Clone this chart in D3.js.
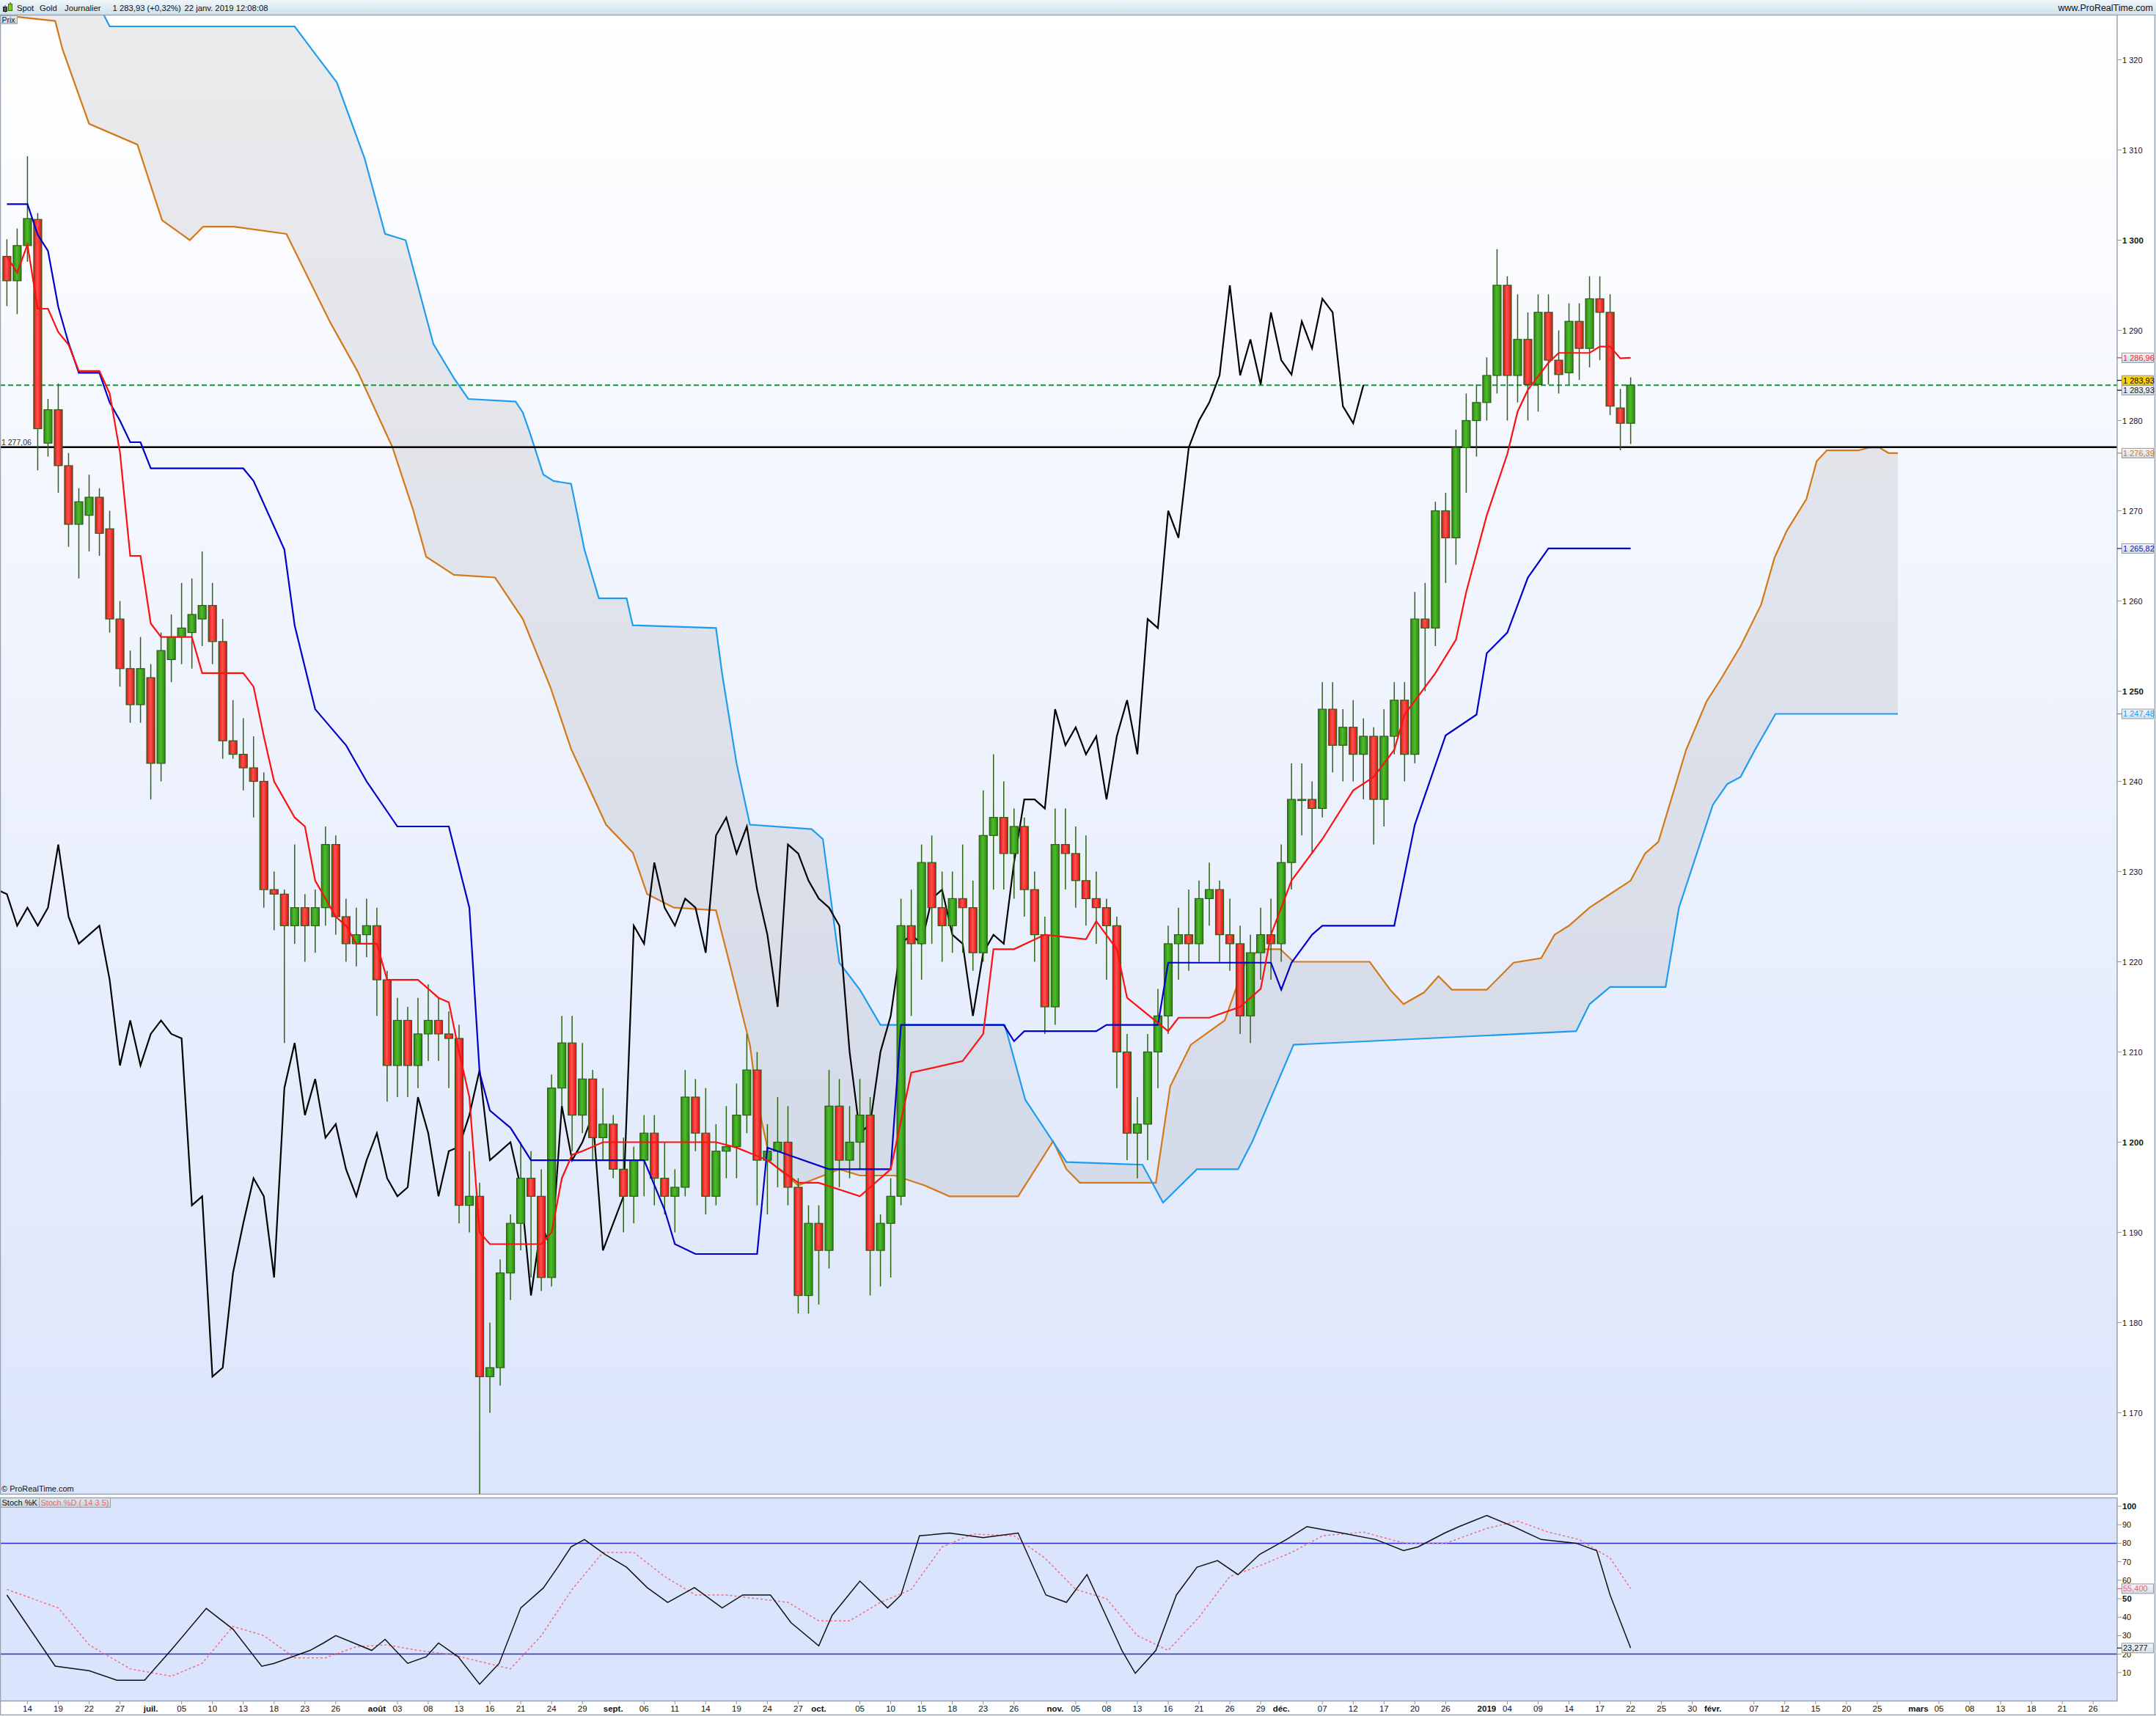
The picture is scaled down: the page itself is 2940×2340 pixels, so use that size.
<!DOCTYPE html>
<html><head><meta charset="utf-8">
<script src="https://cdn.jsdelivr.net/npm/d3@7"></script>
<style>html,body{margin:0;padding:0;background:#fff;} svg{display:block;}</style>
</head><body><svg id="c" width="2940" height="2340"></svg>
<script>
// ---------------- DATA (trading-day index 0 = 12 June 2018) ----------------
const openP = [1298.2,1295.5,1299.4,1302.3,1277.5,1281.2,1275.0,1268.5,1269.5,1271.5,1268.0,1258.0,1252.5,1248.5,1251.5,1242.0,1253.5,1256.0,1256.5,1258.0,1259.5,1255.5,1244.5,1243.0,1241.5,1240.0,1228.0,1227.5,1224.0,1226.0,1224.0,1226.0,1233.0,1225.0,1222.0,1223.0,1224.0,1218.0,1208.5,1213.5,1208.5,1212.0,1213.5,1212.0,1211.5,1193.0,1194.0,1174.0,1175.0,1185.5,1191.0,1196.0,1194.0,1185.0,1206.0,1211.0,1203.0,1207.0,1200.5,1202.0,1197.0,1194.0,1198.0,1201.0,1196.0,1194.0,1195.0,1205.0,1201.0,1194.0,1199.0,1199.5,1203.0,1208.0,1198.0,1199.0,1200.0,1195.0,1183.0,1191.0,1188.0,1204.0,1198.0,1200.0,1203.0,1188.0,1191.0,1194.0,1224.0,1222.0,1231.0,1226.0,1224.0,1227.0,1226.0,1221.0,1234.0,1236.0,1232.0,1235.0,1228.0,1223.0,1215.0,1233.0,1232.0,1229.0,1227.0,1226.0,1224.0,1210.0,1201.0,1202.0,1210.0,1214.0,1222.0,1223.0,1222.0,1227.0,1228.0,1223.0,1222.0,1214.0,1221.0,1223.0,1222.0,1231.0,1238.0,1238.0,1237.0,1248.0,1244.0,1246.0,1243.0,1245.0,1238.0,1245.0,1249.0,1243.0,1258.0,1257.0,1270.0,1267.0,1277.0,1280.0,1282.0,1285.0,1295.0,1285.0,1289.0,1284.0,1292.0,1286.7,1285.3,1291.0,1288.0,1293.5,1292.0,1281.4,1279.7];
const highP = [1300.1,1301.3,1309.3,1303.0,1282.4,1284.1,1276.4,1272.5,1274.0,1272.5,1270.0,1260.0,1254.5,1256.0,1253.0,1256.5,1258.5,1262.0,1262.5,1265.5,1262.0,1258.0,1249.0,1247.0,1245.0,1241.0,1230.0,1228.0,1233.0,1227.5,1228.0,1235.0,1234.0,1227.0,1226.0,1227.0,1226.0,1219.0,1216.0,1215.0,1216.0,1217.5,1216.0,1214.5,1213.0,1199.0,1195.5,1180.0,1187.0,1192.0,1200.0,1199.0,1197.0,1207.5,1214.0,1214.0,1211.0,1208.0,1206.0,1203.0,1200.5,1199.5,1203.0,1203.0,1200.0,1197.0,1208.0,1207.0,1206.0,1202.0,1204.0,1206.5,1212.0,1210.0,1202.0,1205.0,1204.0,1196.0,1193.0,1193.0,1208.0,1207.0,1204.0,1207.0,1205.0,1192.0,1196.0,1227.0,1228.0,1233.0,1234.0,1230.0,1230.0,1233.0,1229.0,1239.0,1243.0,1240.0,1237.0,1236.0,1230.0,1225.0,1237.0,1237.0,1235.0,1234.0,1230.0,1227.0,1225.0,1212.0,1205.0,1212.0,1217.0,1224.0,1226.0,1228.0,1229.0,1231.0,1229.0,1227.0,1224.0,1223.0,1226.0,1227.0,1233.0,1242.0,1242.0,1240.0,1251.0,1251.0,1248.0,1249.0,1247.0,1246.0,1248.0,1251.0,1251.0,1261.0,1262.0,1271.0,1272.0,1279.0,1283.0,1284.0,1287.0,1299.0,1296.0,1294.0,1292.0,1294.0,1294.0,1290.0,1293.0,1293.0,1296.0,1296.0,1294.0,1283.5,1284.8];
const lowP = [1292.7,1291.8,1297.6,1274.5,1276.0,1272.0,1266.0,1262.5,1265.5,1265.0,1256.5,1250.5,1246.5,1246.5,1238.0,1240.0,1251.0,1253.0,1252.5,1255.0,1253.0,1242.5,1242.5,1239.0,1236.0,1226.0,1223.5,1211.0,1222.0,1220.0,1221.0,1224.0,1223.0,1220.0,1219.5,1220.5,1214.0,1204.5,1205.0,1205.0,1206.0,1209.0,1209.0,1206.0,1191.0,1190.0,1160.0,1170.0,1173.0,1182.5,1188.0,1185.0,1183.5,1184.0,1204.0,1199.0,1201.0,1198.0,1198.0,1196.0,1190.0,1191.0,1194.0,1193.0,1192.0,1190.0,1194.0,1199.0,1192.0,1193.0,1196.0,1196.0,1201.0,1193.0,1192.0,1195.0,1193.0,1181.0,1181.0,1182.0,1186.0,1195.0,1196.0,1197.0,1183.0,1184.0,1185.0,1193.0,1214.0,1218.0,1222.0,1220.0,1221.0,1221.0,1219.0,1220.0,1228.0,1228.0,1227.0,1225.0,1220.0,1212.0,1213.0,1228.0,1226.0,1224.0,1222.0,1218.0,1206.0,1198.0,1196.0,1198.0,1206.0,1212.0,1218.0,1219.0,1220.0,1224.0,1220.0,1219.0,1212.0,1211.0,1218.0,1218.0,1220.0,1228.0,1234.0,1232.0,1236.0,1241.0,1240.0,1240.0,1238.0,1233.0,1235.0,1243.0,1240.0,1242.0,1250.0,1255.0,1262.0,1264.0,1272.0,1276.0,1280.0,1283.0,1280.0,1282.0,1280.0,1281.0,1284.0,1283.0,1284.0,1284.5,1285.9,1286.7,1280.6,1276.7,1277.4];
const closeP = [1295.5,1299.4,1302.4,1279.1,1281.2,1275.0,1268.5,1271.0,1271.5,1267.5,1258.0,1252.5,1248.5,1252.5,1242.0,1254.5,1256.0,1257.0,1258.5,1259.5,1255.5,1244.5,1243.0,1241.5,1240.0,1228.0,1227.5,1224.0,1226.0,1224.0,1226.0,1233.0,1225.0,1222.0,1223.0,1224.0,1218.0,1208.5,1213.5,1208.5,1212.0,1213.5,1212.0,1211.5,1193.0,1194.0,1174.0,1175.0,1185.5,1191.0,1196.0,1194.0,1185.0,1206.0,1211.0,1203.0,1207.0,1200.5,1202.0,1197.0,1194.0,1198.0,1201.0,1196.0,1194.0,1195.0,1205.0,1201.0,1194.0,1199.0,1199.5,1203.0,1208.0,1198.0,1199.0,1200.0,1195.0,1183.0,1191.0,1188.0,1204.0,1198.0,1200.0,1203.0,1188.0,1191.0,1194.0,1224.0,1222.0,1231.0,1226.0,1224.0,1227.0,1226.0,1221.0,1234.0,1236.0,1232.0,1235.0,1228.0,1223.0,1215.0,1233.0,1232.0,1229.0,1227.0,1226.0,1224.0,1210.0,1201.0,1202.0,1210.0,1214.0,1222.0,1223.0,1222.0,1227.0,1228.0,1223.0,1222.0,1214.0,1221.0,1223.0,1222.0,1231.0,1238.0,1238.0,1237.0,1248.0,1244.0,1246.0,1243.0,1245.0,1238.0,1245.0,1249.0,1243.0,1258.0,1257.0,1270.0,1267.0,1277.0,1280.0,1282.0,1285.0,1295.0,1285.0,1289.0,1284.0,1292.0,1286.7,1285.1,1291.0,1288.0,1293.5,1292.0,1281.6,1279.7,1283.93];

// Ichimoku lines: [index, price]
const tenkanPts = [[0,1298.2],[1,1296.4],[2,1299.5],[3,1292.4],[4,1292.4],[5,1289.8],[6,1288.4],[7,1285.5],[9,1285.5],[10,1283],[11,1276.5],[12,1265],[13,1265],[14,1257.5],[15,1256],[18,1256],[19,1252],[23,1252],[24,1250.5],[25,1245],[26,1240],[27,1238],[28,1236],[29,1235],[30,1229],[31,1227],[32,1225],[33,1224],[34,1222],[36,1222],[37,1218],[40,1218],[41,1217],[42,1216],[43,1215.5],[44,1210],[45,1205],[46,1190],[47,1188.7],[52,1188.7],[53,1190],[54,1196],[55,1198.6],[56,1199],[58,1200],[69,1200],[71,1199.4],[74,1198],[77,1195.5],[79,1195.5],[83,1194],[86,1197],[88,1207.7],[93,1209],[95,1212],[96,1221.4],[98,1221.4],[101,1223],[105,1222.5],[106,1224.5],[108,1221.4],[109,1216],[113,1212.3],[114,1213.8],[117,1213.8],[120,1215],[122,1217],[123,1223],[125,1229],[128,1233.6],[131,1239],[133,1240.5],[135,1243.5],[136,1247.4],[139,1252],[141,1255.7],[142,1261],[144,1269.5],[146,1276.3],[147,1281],[148,1283.4],[150,1286.4],[151,1287.5],[154,1287.5],[155,1288.2],[156,1288.2],[157,1286.9],[158,1286.96]];
const kijunPts = [[0,1304],[2,1304],[3,1300.6],[4,1298.8],[5,1292.6],[6,1288.6],[7,1285.3],[9,1285.3],[10,1282],[11,1280],[12,1277.6],[13,1277.6],[14,1274.7],[23,1274.7],[24,1273.3],[27,1265.7],[28,1257.3],[30,1248],[33,1244],[35,1240],[38,1235],[43,1235],[45,1226],[46,1207.7],[47,1203.5],[49,1201.6],[51,1198],[62,1198],[64,1192.5],[65,1188.7],[67,1187.6],[73,1187.6],[74,1199.4],[76,1198.6],[80,1197],[86,1197],[87,1213],[97,1213],[98,1211.2],[99,1212.3],[106,1212.3],[107,1213],[112,1213],[113,1219.9],[123,1219.9],[124,1216.9],[125,1219.9],[127,1223],[128,1224],[135,1224],[137,1235.2],[140,1245.1],[143,1247.4],[144,1254.2],[146,1256.5],[148,1262.6],[150,1265.82],[158,1265.82]];
const spanAPts = [[-1,1325],[4.7,1324.3],[5.4,1321.2],[8,1312.9],[12.7,1310.6],[15.1,1302.2],[17.8,1300],[19.1,1301.5],[22.1,1301.5],[27.2,1300.7],[31.5,1290.8],[34.1,1285.5],[37.5,1277.1],[39.5,1270.2],[40.8,1264.9],[43.5,1262.9],[47.5,1262.6],[50.2,1258],[52.9,1250.4],[54.9,1243.6],[58.3,1235.2],[60.9,1232.1],[62.3,1227.5],[64.9,1226],[69,1225.7],[70.3,1219.9],[72.3,1210.8],[73,1204.7],[74.3,1197.8],[77,1195.2],[81,1197],[83,1196.3],[86.4,1196.3],[89.3,1195.2],[91.7,1194],[98.4,1194],[101.8,1200.1],[103.1,1197],[104.4,1195.5],[111.8,1195.5],[113.2,1206.2],[115.2,1210.8],[118.5,1213.5],[120.5,1219.9],[121.9,1221.4],[123.9,1221.4],[125.2,1220],[132.6,1220],[134.6,1216.9],[135.9,1215.3],[137.9,1216.6],[139.3,1218.4],[140.6,1216.9],[144,1216.9],[145.3,1218.4],[146.6,1219.9],[149.3,1220.4],[150.6,1223],[152,1224],[154,1226],[156,1227.5],[158,1229],[159.4,1232],[160.7,1233.3],[162,1238.2],[163.4,1243.5],[165.4,1248.9],[166.7,1251.2],[168.7,1255],[170.7,1259.6],[172,1264.8],[173.2,1267.8],[175.1,1271.3],[176.1,1275.5],[177.1,1276.7],[180.2,1276.7],[181.2,1277.0],[182.2,1277.0],[183.1,1276.4],[184,1276.39]];
const spanBPts = [[9.2,1325.5],[10,1323.7],[28,1323.7],[30.1,1320.5],[32.1,1317.5],[34.8,1309.1],[36.8,1300.7],[38.8,1300],[41.5,1288.5],[43.5,1284.7],[44.9,1282.4],[49.5,1282.1],[50.2,1280.9],[50.9,1278.6],[52.2,1274],[53.2,1273.3],[54.9,1273],[56.2,1265.7],[57.6,1260.3],[60.3,1260.3],[60.9,1257.3],[69,1257],[69.6,1251.9],[71,1242],[72.3,1235.2],[78.3,1234.7],[79.4,1233.6],[81,1219.9],[83,1216.9],[85,1213],[97.1,1213],[99.1,1204.7],[103.1,1197.8],[110.5,1197.5],[112.5,1193.3],[115.8,1197],[119.8,1197],[121.2,1200.1],[125.2,1210.8],[152.7,1212.3],[154,1215.3],[156,1217.2],[161.4,1217.2],[162.7,1226],[166,1237.4],[167.4,1239.7],[168.7,1240.5],[170.1,1243.5],[172.1,1247.48],[184,1247.48]];

// Stochastic (14,3,5): [index, value]
const stochKPts = [[0,52],[4.7,13.5],[8,11],[10.7,5.9],[13.4,5.9],[16,22.3],[19.4,44.7],[22,33.5],[24.8,13.4],[26,15],[29.5,22],[30.8,26],[32,30],[35.5,22],[36.8,28],[39,15],[40.8,18.6],[42,26],[43.9,18.6],[46,3.7],[47.9,15],[50,45],[52.2,55.8],[53.6,67],[54.9,78],[56.2,82],[58.2,74],[60.3,67],[62.3,56],[64.3,48],[66.9,56],[69.6,45],[71.6,52],[74.3,52],[76.3,37],[79,24.5],[80.3,41],[83,59.5],[85.7,45],[87,52],[88.8,84],[91.7,85.5],[95,83],[98.4,85.5],[101.1,52],[103.1,48],[105.1,63],[108.5,22],[109.8,9.6],[111.8,22],[113.8,52],[115.8,67],[117.8,70.6],[119.8,63],[121.9,74],[124.5,82],[126.5,89],[129.9,85.5],[133.2,82],[135.9,76],[137.3,78],[139.9,85.5],[141.3,89],[144,95],[146.6,89],[149.3,82],[152.7,80],[154.7,76],[156,52],[158,23.277]];
const stochDPts = [[0,55],[5,45],[8,25],[12,12],[16,8],[19,15],[22,35],[25,30],[28,18],[31,18],[34,24],[37,25],[40,22],[43,20],[46,16],[49,12],[52,30],[55,55],[58,75],[61,75],[64,62],[67,52],[70,52],[73,50],[76,48],[79,38],[82,38],[85,48],[88,55],[91,78],[94,85],[98,84],[101,72],[104,55],[107,50],[110,30],[113,22],[116,40],[119,62],[122,68],[125,75],[128,84],[132,86],[136,80],[140,80],[144,88],[147,92],[150,86],[153,82],[156,72],[158,55.4]];

// x-axis tick labels
const tickIdx = [2,5,8,11,14,17,20,23,26,29,32,36,38,41,44,47,50,53,56,59,62,65,68,71,74,77,79,83,86,89,92,95,98,102,104,107,110,113,116,119,122,124,128,131,134,137,140,144,146,149,152,155,158,161,164,166,170,173,176,179,182,186,188,191,194,197,200,203];
const tickTxt = ["14","19","22","27","juil.","05","10","13","18","23","26","août","03","08","13","16","21","24","29","sept.","06","11","14","19","24","27","oct.","05","10","15","18","23","26","nov.","05","08","13","16","21","26","29","déc.","07","12","17","20","26","2019","04","09","14","17","22","25","30","févr.","07","12","15","20","25","mars","05","08","13","18","21","26"];
const monthTxt = ["juil.","août","sept.","oct.","nov.","déc.","2019","févr.","mars"];
const priceTicks = [1170,1180,1190,1200,1210,1220,1230,1240,1250,1260,1270,1280,1290,1300,1310,1320];
const stochTicks = [10,20,30,40,50,60,70,80,90,100];
const lastClose = 1283.93, refLevel = 1277.06;

// ---------------- LAYOUT ----------------
const svg = d3.select('#c');
const AX = 2887, mainTop = 21, mainBot = 2038, stTop = 2042, stBot = 2319;
const x = d3.scaleLinear().domain([0, 203]).range([9.4, 9.4 + 14.014 * 203]);
const y = d3.scaleLinear().domain([1200, 1300]).range([1557.5, 327.5]);
const ys = d3.scaleLinear().domain([0, 100]).range([2306, 2054]);
const FONT = "'Liberation Sans', Arial, sans-serif";
const NARROW = "'Liberation Sans Narrow', 'Arial Narrow', 'Liberation Sans', sans-serif";

const defs = svg.append('defs');
function lg(id, stops, vertical) {
  const g = defs.append('linearGradient').attr('id', id)
    .attr('x1', 0).attr('y1', 0).attr('x2', vertical ? 0 : 1).attr('y2', vertical ? 1 : 0);
  stops.forEach(s => g.append('stop').attr('offset', s[0]).attr('stop-color', s[1]));
}
lg('gMain', [[0, '#ffffff'], [1, '#dbe5fb']], true);
lg('gHead', [[0, '#eef6fa'], [1, '#cfe2ec']], true);
lg('gGreen', [[0, '#2a8a10'], [0.45, '#4fbb2e'], [1, '#2a8a10']], false);
lg('gRed', [[0, '#e01010'], [0.45, '#ff5252'], [1, '#e01010']], false);
lg('gBox', [[0, '#f4f7fa'], [1, '#d5dde6']], true);
lg('gTitle', [[0, '#e6ecf0'], [1, '#c4ced8']], true);
defs.append('clipPath').attr('id', 'clipMain').append('rect')
  .attr('x', 1).attr('y', mainTop).attr('width', AX - 1).attr('height', mainBot - mainTop);
defs.append('clipPath').attr('id', 'clipSt').append('rect')
  .attr('x', 1).attr('y', stTop).attr('width', AX - 1).attr('height', stBot - stTop);

// backgrounds
svg.append('rect').attr('width', 2940).attr('height', 2340).attr('fill', '#ffffff');
svg.append('rect').attr('x', 0).attr('y', mainTop).attr('width', AX).attr('height', mainBot - mainTop).attr('fill', 'url(#gMain)');
svg.append('rect').attr('x', 0).attr('y', stTop).attr('width', AX).attr('height', stBot - stTop).attr('fill', '#dae4fc');

// header
svg.append('rect').attr('x', 0).attr('y', 0).attr('width', 2940).attr('height', 20).attr('fill', 'url(#gHead)');
svg.append('line').attr('x1', 0).attr('x2', 2940).attr('y1', 20.5).attr('y2', 20.5).attr('stroke', '#96a4b0').attr('stroke-width', 1);
svg.append('line').attr('x1', 7).attr('x2', 7).attr('y1', 7).attr('y2', 17).attr('stroke', '#333');
svg.append('rect').attr('x', 4.5).attr('y', 9.5).attr('width', 5).attr('height', 6).attr('fill', '#555').attr('stroke', '#222');
svg.append('line').attr('x1', 14).attr('x2', 14).attr('y1', 3).attr('y2', 15).attr('stroke', '#333');
svg.append('rect').attr('x', 11.5).attr('y', 5.5).attr('width', 5).attr('height', 9).attr('fill', '#7ed21e').attr('stroke', '#3a6a10');
const head = [[23, 'Spot'], [54, 'Gold'], [88, 'Journalier'], [153.5, '1 283,93 (+0,32%)'], [251.5, '22 janv. 2019 12:08:08']];
head.forEach(h => svg.append('text').attr('x', h[0]).attr('y', 15).attr('font-family', FONT).attr('font-size', 11.3).attr('fill', '#111').text(h[1]));
svg.append('text').attr('x', 2936).attr('y', 15).attr('text-anchor', 'end').attr('font-family', FONT).attr('font-size', 12.5).attr('fill', '#111').text('www.ProRealTime.com');

// ---------------- MAIN PANEL ----------------
const gm = svg.append('g').attr('clip-path', 'url(#clipMain)');

function pieceLine(pts) {
  return d3.scaleLinear().domain(pts.map(p => p[0])).range(pts.map(p => p[1])).clamp(true);
}
const fA = pieceLine(spanAPts), fB = pieceLine(spanBPts);
const cloudIdx = d3.range(-1, 184.01, 0.1).map(v => +v.toFixed(1));
const cloudPts = Array.from(new Set(cloudIdx.concat(spanAPts.map(p => p[0]), spanBPts.map(p => p[0])))).filter(v => v >= -1 && v <= 184).sort((a, b) => a - b);
gm.append('path').datum(cloudPts)
  .attr('d', d3.area().x(d => x(d)).y0(d => y(fA(d))).y1(d => y(d < 9.2 ? 1330 : fB(d))))
  .attr('fill', '#9a9aa0').attr('fill-opacity', 0.2);

const lineGen = d3.line().x(d => x(d[0])).y(d => y(d[1]));
const spanBDraw = [[8.5, 1330]].concat(spanBPts);
gm.append('path').datum(spanAPts).attr('d', lineGen).attr('fill', 'none').attr('stroke', '#d47818').attr('stroke-width', 2.2);
gm.append('path').datum(spanBDraw).attr('d', lineGen).attr('fill', 'none').attr('stroke', '#1e9cf0').attr('stroke-width', 2.2);

gm.append('line').attr('x1', 0).attr('x2', AX).attr('y1', y(refLevel)).attr('y2', y(refLevel)).attr('stroke', '#000').attr('stroke-width', 2.5);
gm.append('line').attr('x1', 0).attr('x2', AX).attr('y1', y(lastClose)).attr('y2', y(lastClose)).attr('stroke', '#0a9a3a').attr('stroke-width', 2).attr('stroke-dasharray', '7,4');
svg.append('text').attr('x', 2).attr('y', y(refLevel) - 3).attr('font-family', FONT).attr('font-size', 10.5).attr('fill', '#333').text('1 277,06');

// chikou = closes shifted 26 bars back
const chikou = closeP.map((c, i) => [i - 26, c]).filter(d => d[0] >= -1);
gm.append('path').datum(chikou).attr('d', lineGen).attr('fill', 'none').attr('stroke', '#000').attr('stroke-width', 2.2);

// candles
const idx = d3.range(closeP.length);
const bw = 11;
const cg = gm.append('g');
cg.selectAll('line.w').data(idx).join('line')
  .attr('x1', i => x(i)).attr('x2', i => x(i))
  .attr('y1', i => y(highP[i])).attr('y2', i => y(lowP[i]))
  .attr('stroke', '#2b6412').attr('stroke-width', 1.5);
cg.selectAll('rect.b').data(idx).join('rect')
  .attr('x', i => x(i) - bw / 2).attr('width', bw)
  .attr('y', i => y(Math.max(openP[i], closeP[i])))
  .attr('height', i => Math.max(1.5, Math.abs(y(openP[i]) - y(closeP[i]))))
  .attr('fill', i => closeP[i] >= openP[i] ? 'url(#gGreen)' : 'url(#gRed)')
  .attr('stroke', '#2b5e12').attr('stroke-width', 1.2);

gm.append('path').datum(kijunPts).attr('d', lineGen).attr('fill', 'none').attr('stroke', '#0000c8').attr('stroke-width', 2.2);
gm.append('path').datum(tenkanPts).attr('d', lineGen).attr('fill', 'none').attr('stroke', '#ff1010').attr('stroke-width', 2.2);

svg.append('rect').attr('x', 0.5).attr('y', 21.5).attr('width', 23).attr('height', 11).attr('fill', 'url(#gTitle)').attr('stroke', '#98a4ae');
svg.append('text').attr('x', 2.5).attr('y', 30.5).attr('font-family', FONT).attr('font-size', 10.5).attr('fill', '#222').text('Prix');
svg.append('text').attr('x', 2).attr('y', 2034).attr('font-family', FONT).attr('font-size', 11).attr('fill', '#111').text('© ProRealTime.com');

// ---------------- STOCH PANEL ----------------
const gs = svg.append('g').attr('clip-path', 'url(#clipSt)');
[80, 20].forEach(v => gs.append('line').attr('x1', 0).attr('x2', AX).attr('y1', ys(v)).attr('y2', ys(v)).attr('stroke', '#2a2ae0').attr('stroke-width', 1.5));
const sLine = d3.line().x(d => x(d[0])).y(d => ys(d[1]));
gs.append('path').datum(stochDPts).attr('d', sLine).attr('fill', 'none').attr('stroke', '#f07080').attr('stroke-width', 1.5).attr('stroke-dasharray', '3,3');
gs.append('path').datum(stochKPts).attr('d', sLine).attr('fill', 'none').attr('stroke', '#111').attr('stroke-width', 1.5);
svg.append('rect').attr('x', 0.5).attr('y', 2042.5).attr('width', 53).attr('height', 13).attr('fill', 'url(#gTitle)').attr('stroke', '#98a4ae');
svg.append('rect').attr('x', 53.5).attr('y', 2042.5).attr('width', 97).attr('height', 13).attr('fill', 'url(#gTitle)').attr('stroke', '#98a4ae');
svg.append('text').attr('x', 2.5).attr('y', 2053).attr('font-family', FONT).attr('font-size', 11).attr('fill', '#111').text('Stoch %K');
svg.append('text').attr('x', 55.5).attr('y', 2053).attr('font-family', FONT).attr('font-size', 11).attr('fill', '#e86870').text('Stoch %D ( 14 3 5)');

// ---------------- FRAMES ----------------
const frame = '#98a4b0';
svg.append('rect').attr('x', 0.5).attr('y', mainTop - 0.5).attr('width', AX - 0.5).attr('height', mainBot - mainTop).attr('fill', 'none').attr('stroke', frame).attr('stroke-width', 1.5);
svg.append('rect').attr('x', 0.5).attr('y', stTop + 0.5).attr('width', AX - 0.5).attr('height', stBot - stTop).attr('fill', 'none').attr('stroke', frame).attr('stroke-width', 1.5);
svg.append('line').attr('x1', 2938.5).attr('x2', 2938.5).attr('y1', 20).attr('y2', 2339).attr('stroke', frame).attr('stroke-width', 1.5);
svg.append('line').attr('x1', 0).attr('x2', 2940).attr('y1', 2338.5).attr('y2', 2338.5).attr('stroke', frame).attr('stroke-width', 1.5);
svg.append('line').attr('x1', 0.5).attr('x2', 0.5).attr('y1', 2319).attr('y2', 2339).attr('stroke', frame).attr('stroke-width', 1.5);

// ---------------- AXES ----------------
const ay = svg.append('g');
priceTicks.forEach(p => {
  const yy = y(p);
  ay.append('line').attr('x1', AX).attr('x2', AX + 6).attr('y1', yy).attr('y2', yy).attr('stroke', '#8a96a2');
  const bold = (p % 50 === 0);
  ay.append('text').attr('x', AX + 7).attr('y', yy + 4).attr('font-family', FONT).attr('font-size', bold ? 11.5 : 11)
    .attr('font-weight', bold ? 'bold' : 'normal').attr('fill', '#111').text(d3.format(',')(p).replace(',', ' '));
});
stochTicks.forEach(v => {
  const yy = ys(v);
  const bold = (v === 50 || v === 100);
  ay.append('line').attr('x1', AX).attr('x2', AX + 6).attr('y1', yy).attr('y2', yy).attr('stroke', '#8a96a2');
  ay.append('text').attr('x', AX + 7).attr('y', yy + 4).attr('font-family', FONT).attr('font-size', bold ? 11.5 : 11)
    .attr('font-weight', bold ? 'bold' : 'normal').attr('fill', '#111').text(v);
});
function valBox(yy, txt, color, fill, tick) {
  ay.append('line').attr('x1', AX).attr('x2', AX + 6).attr('y1', yy).attr('y2', yy).attr('stroke', tick || color).attr('stroke-width', 1.2);
  ay.append('rect').attr('x', AX + 6.5).attr('y', yy - 6.5).attr('width', 43).attr('height', 13).attr('fill', fill || 'url(#gBox)').attr('stroke', '#8c98a4');
  ay.append('text').attr('x', AX + 8).attr('y', yy + 4).attr('font-family', FONT).attr('font-size', 11).attr('fill', color).text(txt);
}
valBox(y(1286.96), '1 286,96', '#ff2020');
valBox(y(lastClose) - 6.5, '1 283,93', '#000', '#ffd200', '#000');
valBox(y(lastClose) + 7, '1 283,93', '#222', null, '#000');
valBox(y(1276.39), '1 276,39', '#d47818');
valBox(y(1265.82), '1 265,82', '#1010d0');
valBox(y(1247.48), '1 247,48', '#1e9cf0');
valBox(ys(55.4), '55,400', '#f06070');
valBox(ys(23.277), '23,277', '#111', null, '#111');

// x axis
const ax = svg.append('g');
tickIdx.forEach((ti, k) => {
  const t = tickTxt[k];
  const isM = monthTxt.includes(t);
  const xx = x(ti);
  if (!isM) ax.append('line').attr('x1', xx).attr('x2', xx).attr('y1', stBot).attr('y2', stBot + 5).attr('stroke', '#8a96a2');
  ax.append('text').attr('x', xx).attr('y', 2334).attr('text-anchor', 'middle').attr('font-family', NARROW)
    .attr('font-size', 11.5).attr('font-weight', isM ? 'bold' : 'normal').attr('fill', '#111').text(t);
});
</script></body></html>
